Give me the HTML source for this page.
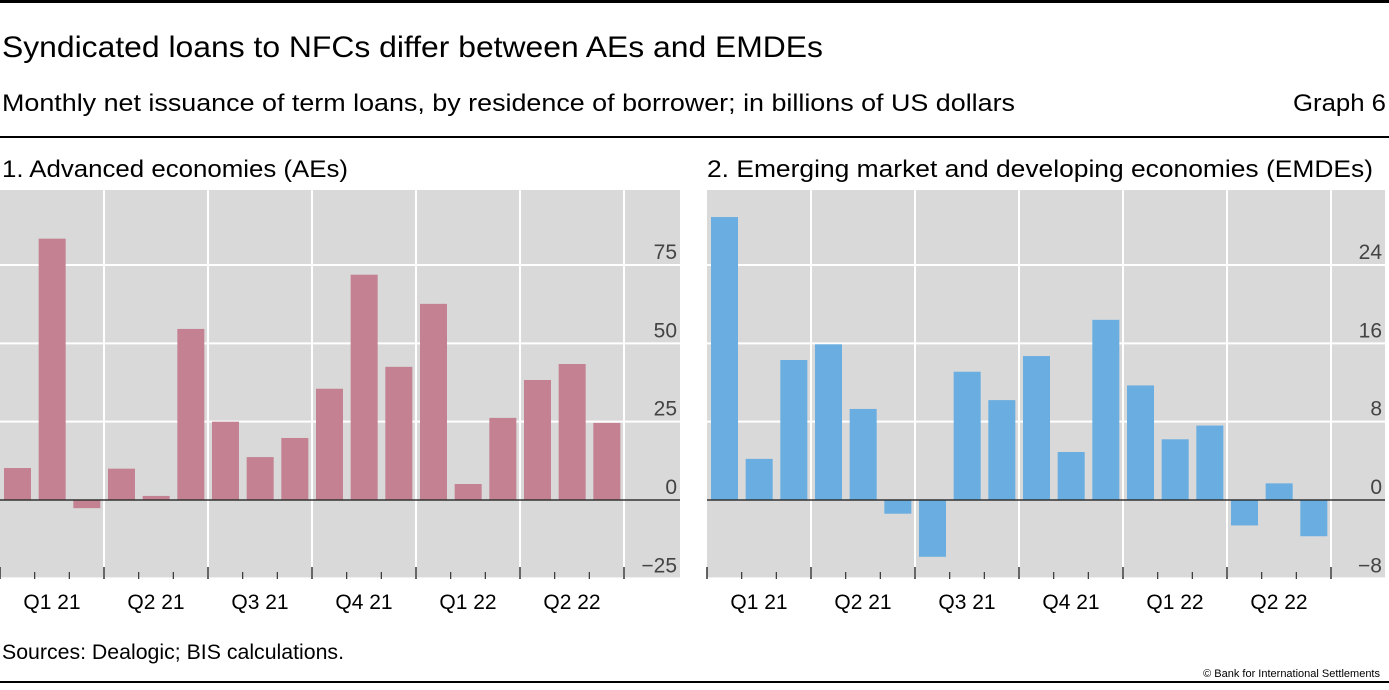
<!DOCTYPE html>
<html><head><meta charset="utf-8"><style>
body{margin:0;background:#fff;font-family:"Liberation Sans","DejaVu Sans",sans-serif;}
svg text{font-family:"Liberation Sans","DejaVu Sans",sans-serif;}
</style></head><body>
<svg id="c" width="1389" height="685" viewBox="0 0 1389 685" xmlns="http://www.w3.org/2000/svg">
<rect x="0" y="0" width="1389" height="3" fill="#000"/>
<text x="2" y="57" font-size="30" fill="#000" textLength="821" lengthAdjust="spacingAndGlyphs">Syndicated loans to NFCs differ between AEs and EMDEs</text>
<text x="2" y="111" font-size="24" fill="#000" textLength="1013" lengthAdjust="spacingAndGlyphs">Monthly net issuance of term loans, by residence of borrower; in billions of US dollars</text>
<text x="1386" y="111" font-size="24" fill="#000" text-anchor="end" textLength="93" lengthAdjust="spacingAndGlyphs">Graph 6</text>
<rect x="0" y="136" width="1389" height="2" fill="#000"/>
<text x="2" y="177" font-size="24" fill="#000" textLength="346" lengthAdjust="spacingAndGlyphs">1. Advanced economies (AEs)</text>
<text x="707" y="177" font-size="24" fill="#000" textLength="666" lengthAdjust="spacingAndGlyphs">2. Emerging market and developing economies (EMDEs)</text>
<text x="2" y="659" font-size="21" fill="#000" textLength="342" lengthAdjust="spacingAndGlyphs">Sources: Dealogic; BIS calculations.</text>
<text x="1380" y="677" font-size="11" fill="#000" text-anchor="end">© Bank for International Settlements</text>
<rect x="0" y="681" width="1389" height="2" fill="#000"/>
<g id="p1"></g>
<g id="p2"></g>
</svg>
<script>
const quarterLabels = ["Q1 21","Q2 21","Q3 21","Q4 21","Q1 22","Q2 22"];
const aeValues = [10.2, 83.4, -2.6, 10, 1.3, 54.6, 25, 13.7, 19.8, 35.5, 71.9, 42.5, 62.6, 5.1, 26.2, 38.3, 43.4, 24.6];
const aeTicks = [-25, 0, 25, 50, 75];
const emdeValues = [28.9, 4.2, 14.3, 15.9, 9.3, -1.4, -5.8, 13.1, 10.2, 14.7, 4.9, 18.4, 11.7, 6.2, 7.6, -2.6, 1.7, -3.7];
const emdeTicks = [-8, 0, 8, 16, 24];
const NS = "http://www.w3.org/2000/svg";
function mk(tag, attrs, parent){const e=document.createElementNS(NS,tag);for(const k in attrs)e.setAttribute(k,attrs[k]);parent.appendChild(e);return e;}
function panel(gid, x0, x1, vals, ticks, yMin, yMax, color, prefix){
  const g=document.getElementById(gid);
  const top=190, bot=579, zeroY=500;
  const pxPerUnit=(zeroY-265)/yMax;
  const y=v=>zeroY - v*pxPerUnit;
  const month=104/3;
  const xm=i=>x0+i*month;
  const bg=mk('rect',{x:x0,y:top,width:x1-x0,height:bot-top,fill:'#d9d9d9'},g);
  
  
  ticks.forEach(t=>{
    if(t!==0){
      const l=mk('line',{x1:x0,x2:x1,y1:y(t),y2:y(t),stroke:'#fff','stroke-width':2},g);
      
      
    }
    const tx=mk('text',{x:x1-3,y:y(t)-6,'font-size':21,fill:'#444','text-anchor':'end'},g);
    tx.textContent=t<0?'\u2212'+Math.abs(t):String(t);
    
    
  });
  for(let q=1;q<=6;q++){
    const l=mk('line',{x1:xm(q*3),x2:xm(q*3),y1:top,y2:bot,stroke:'#fff','stroke-width':2},g);
    
    
  }
  vals.forEach((v,i)=>{
    const bx=xm(i)+4, by=Math.min(y(v),zeroY), h=Math.abs(y(v)-zeroY);
    const r=mk('rect',{x:bx,y:by,width:27,height:h,fill:color},g);
    
    
  });
  const z=mk('line',{x1:x0,x2:x1,y1:zeroY,y2:zeroY,stroke:'#333','stroke-width':1.5},g);
  
  
  for(let i=0;i<=18;i++){
    const big=i%3===0;
    const t=mk('line',{x1:xm(i),x2:xm(i),y1:big?567:572,y2:bot,stroke:'#333','stroke-width':big?1.5:1.2},g);
    
    
  }
  quarterLabels.forEach((lab,q)=>{
    const tx=mk('text',{x:xm(q*3+1.5),y:609,'font-size':21,fill:'#000','text-anchor':'middle'},g);
    tx.textContent=lab;
    
    
  });
}
panel('p1',0,680,aeValues,aeTicks,-25,75,'#c38192','ae');
panel('p2',707,1385,emdeValues,emdeTicks,-8,24,'#6aade0','emde');
</script>
</body></html>
